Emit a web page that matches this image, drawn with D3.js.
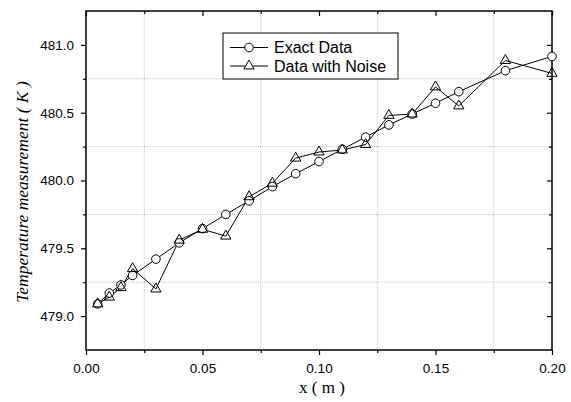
<!DOCTYPE html>
<html>
<head>
<meta charset="utf-8">
<script src="https://cdn.jsdelivr.net/npm/d3@7"></script>
<style>
  body { margin: 0; background: #fff; }
  svg { display: block; }
</style>
</head>
<body>
<div id="chart"></div>
<script>
// positions along the rod (m)
var xPos = [0.005, 0.01, 0.015, 0.02, 0.03, 0.04, 0.05, 0.06, 0.07, 0.08,
            0.09, 0.10, 0.11, 0.12, 0.13, 0.14, 0.15, 0.16, 0.18, 0.20];

// exact temperatures (K)
var exactData = [479.09, 479.17, 479.23, 479.30, 479.42, 479.54, 479.645, 479.75, 479.85, 479.955,
                 480.05, 480.14, 480.23, 480.32, 480.41, 480.49, 480.57, 480.655, 480.81, 480.915];

// noisy temperatures (K)
var noiseData = [479.09, 479.14, 479.21, 479.35, 479.20, 479.56, 479.64, 479.59, 479.88, 479.98,
                 480.165, 480.21, 480.225, 480.265, 480.48, 480.49, 480.69, 480.55, 480.885, 480.79];

var xMajor = [0, 0.05, 0.10, 0.15, 0.20];
var xMinor = [0.025, 0.075, 0.125, 0.175];
var yMajor = [479.0, 479.5, 480.0, 480.5, 481.0];
var yMinor = [479.25, 479.75, 480.25, 480.75];

var legendLabels = ["Exact Data", "Data with Noise"];

var config = {
  w: 571,
  h: 402,
  left: 86,
  right: 19,
  top: 11,
  bot: 52
};

var svg = d3.select("#chart")
  .append("svg")
  .attr("width", config.w)
  .attr("height", config.h);

var innerW = config.w - config.left - config.right;
var innerH = config.h - config.top - config.bot;

var x = d3.scaleLinear().domain([0, 0.20]).range([0, innerW]);
var y = d3.scaleLinear().domain([478.75, 481.25]).range([innerH, 0]);

var g = svg.append("g")
  .attr("transform", "translate(" + config.left + "," + config.top + ")");

// dotted grid at minor positions only
g.selectAll(".vgrid")
  .data(xMinor)
  .enter().append("line")
  .attr("x1", function(d) { return x(d); })
  .attr("x2", function(d) { return x(d); })
  .attr("y1", 0)
  .attr("y2", innerH)
  .style("stroke", "#c4c4c4")
  .style("stroke-width", 1)
  .style("stroke-dasharray", "1,1");

g.selectAll(".hgrid")
  .data(yMinor)
  .enter().append("line")
  .attr("x1", 0)
  .attr("x2", innerW)
  .attr("y1", function(d) { return y(d); })
  .attr("y2", function(d) { return y(d); })
  .style("stroke", "#c4c4c4")
  .style("stroke-width", 1)
  .style("stroke-dasharray", "1,1");

function styleAxis(sel) {
  sel.select(".domain").remove();
  sel.selectAll("line").style("stroke", "#000").style("stroke-width", 1.2);
  sel.selectAll("text")
    .style("font-family", "Arial, 'Liberation Sans', sans-serif")
    .style("font-size", "13.5px")
    .style("fill", "#000");
}

// bottom axis (outward ticks)
g.append("g")
  .attr("transform", "translate(0," + innerH + ")")
  .call(d3.axisBottom(x).tickValues(xMajor).tickSize(5).tickPadding(8)
    .tickFormat(d3.format(".2f")))
  .call(styleAxis);
g.append("g")
  .attr("transform", "translate(0," + innerH + ")")
  .call(d3.axisBottom(x).tickValues(xMinor).tickSize(3).tickFormat(""))
  .call(styleAxis);

// left axis (outward ticks)
g.append("g")
  .call(d3.axisLeft(y).tickValues(yMajor).tickSize(5).tickPadding(7)
    .tickFormat(d3.format(".1f")))
  .call(styleAxis);
g.append("g")
  .call(d3.axisLeft(y).tickValues(yMinor).tickSize(3).tickFormat(""))
  .call(styleAxis);

// top and right axes, ticks pointing inward
g.append("g")
  .call(d3.axisTop(x).tickValues(xMajor).tickSize(-5).tickFormat(""))
  .call(styleAxis);
g.append("g")
  .call(d3.axisTop(x).tickValues(xMinor).tickSize(-3).tickFormat(""))
  .call(styleAxis);
g.append("g")
  .attr("transform", "translate(" + innerW + ",0)")
  .call(d3.axisRight(y).tickValues(yMajor).tickSize(-5).tickFormat(""))
  .call(styleAxis);
g.append("g")
  .attr("transform", "translate(" + innerW + ",0)")
  .call(d3.axisRight(y).tickValues(yMinor).tickSize(-3).tickFormat(""))
  .call(styleAxis);

// frame
g.append("rect")
  .attr("x", 0)
  .attr("y", 0)
  .attr("width", innerW)
  .attr("height", innerH)
  .style("fill", "none")
  .style("stroke", "#000")
  .style("stroke-width", 1.5);

var line = d3.line()
  .x(function(d) { return x(d[0]); })
  .y(function(d) { return y(d[1]); });

var exactPts = d3.zip(xPos, exactData);
var noisePts = d3.zip(xPos, noiseData);

var tri = d3.symbol().type(d3.symbolTriangle).size(46);

g.append("path")
  .datum(exactPts)
  .attr("d", line)
  .style("fill", "none")
  .style("stroke", "#000")
  .style("stroke-width", 1);

g.append("path")
  .datum(noisePts)
  .attr("d", line)
  .style("fill", "none")
  .style("stroke", "#000")
  .style("stroke-width", 1);

g.selectAll(".circ")
  .data(exactPts)
  .enter().append("circle")
  .attr("cx", function(d) { return x(d[0]); })
  .attr("cy", function(d) { return y(d[1]); })
  .attr("r", 4.3)
  .style("fill", "#fff")
  .style("stroke", "#000")
  .style("stroke-width", 1);

g.selectAll(".tri")
  .data(noisePts)
  .enter().append("path")
  .attr("d", tri)
  .attr("transform", function(d) { return "translate(" + x(d[0]) + "," + y(d[1]) + ")"; })
  .style("fill", "none")
  .style("stroke", "#000")
  .style("stroke-width", 1);

// legend
var legend = svg.append("g").attr("transform", "translate(223,33)");
legend.append("rect")
  .attr("width", 175)
  .attr("height", 46)
  .style("fill", "#fff")
  .style("stroke", "#000")
  .style("stroke-width", 1);

var rows = legend.selectAll(".row")
  .data(legendLabels)
  .enter().append("g")
  .attr("transform", function(d, i) { return "translate(0," + (14.5 + i * 18.5) + ")"; });

rows.append("line")
  .attr("x1", 7)
  .attr("x2", 45)
  .style("stroke", "#000")
  .style("stroke-width", 1);

rows.filter(function(d, i) { return i == 0; })
  .append("circle")
  .attr("cx", 26)
  .attr("r", 4.3)
  .style("fill", "#fff")
  .style("stroke", "#000");

rows.filter(function(d, i) { return i == 1; })
  .append("path")
  .attr("d", tri)
  .attr("transform", "translate(26,0)")
  .style("fill", "#fff")
  .style("stroke", "#000");

rows.append("text")
  .attr("x", 51)
  .attr("dy", "0.36em")
  .text(function(d) { return d; })
  .style("font-family", "Arial, 'Liberation Sans', sans-serif")
  .style("font-size", "16px")
  .style("fill", "#000");

// axis titles
svg.append("text")
  .attr("x", config.left + innerW / 2 + 3)
  .attr("y", 393)
  .attr("text-anchor", "middle")
  .style("font-family", "'Times New Roman', 'Liberation Serif', serif")
  .style("font-size", "17px")
  .text("x ( m )");

svg.append("text")
  .attr("transform", "translate(28,192) rotate(-90)")
  .attr("text-anchor", "middle")
  .style("font-family", "'Times New Roman', 'Liberation Serif', serif")
  .style("font-style", "italic")
  .style("font-size", "17.5px")
  .text("Temperature measurement ( K )");
</script>
</body>
</html>
